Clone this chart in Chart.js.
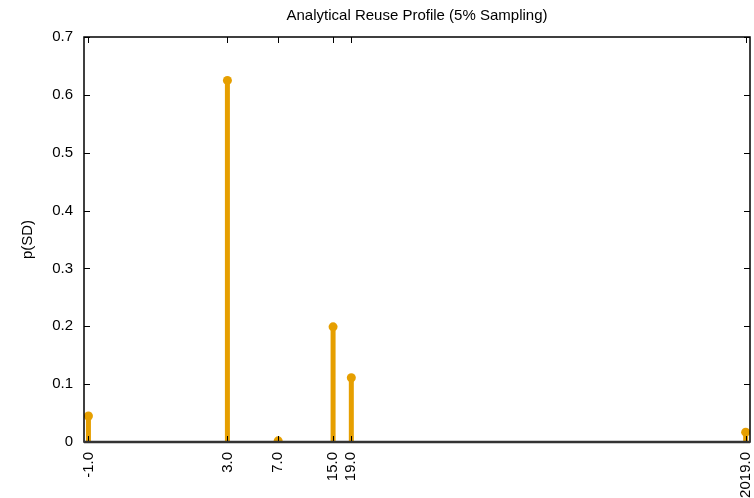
<!DOCTYPE html>
<html>
<head>
<meta charset="utf-8">
<script src="https://cdn.jsdelivr.net/npm/chart.js@4"></script>
<style>
  html, body { margin: 0; padding: 0; background: #fff; overflow: hidden; }
  #wrap { width: 754px; height: 498px; }
</style>
</head>
<body>
<div id="wrap"><canvas id="reuse-chart"></canvas></div>
<script>
// reuse distances (x) and their probabilities
const distances = [-1, 3, 7, 15, 19, 2019];
const probs = [0.045, 0.625, 0.002, 0.199, 0.111, 0.017];
const yTicks = [0, 0.1, 0.2, 0.3, 0.4, 0.5, 0.6, 0.7];

const orange = '#E69F00';
const font = 'Liberation Sans, Arial, Helvetica, sans-serif';

// the x axis is log(d + 2) in the original plot
const shift = 2;

// one stem per distance: (x,0) -> (x,p), broken by a null point
const stemData = [];
distances.forEach((d, i) => {
  stemData.push({ x: d + shift, y: 0 });
  stemData.push({ x: d + shift, y: probs[i] });
  stemData.push({ x: d + shift, y: null });
});

// frame, inward ticks, title and y label
const framePlugin = {
  id: 'frame',
  afterDraw(chart) {
    const ctx = chart.ctx;
    const a = chart.chartArea;
    const xs = chart.scales.x, ys = chart.scales.y;
    ctx.save();
    ctx.strokeStyle = '#000';
    ctx.lineWidth = 1;
    ctx.beginPath();
    distances.forEach(d => {
      const px = Math.round(xs.getPixelForValue(d + shift)) + 0.5;
      ctx.moveTo(px, a.top); ctx.lineTo(px, a.top + 6);
      ctx.moveTo(px, a.bottom); ctx.lineTo(px, a.bottom - 6);
    });
    yTicks.forEach(v => {
      const py = Math.round(ys.getPixelForValue(v)) + 0.5;
      ctx.moveTo(a.left, py); ctx.lineTo(a.left + 6, py);
      ctx.moveTo(a.right, py); ctx.lineTo(a.right - 6, py);
    });
    ctx.stroke();
    ctx.lineWidth = 1.5;
    ctx.strokeRect(a.left, a.top, a.right - a.left, a.bottom - a.top);
    // darker baseline
    ctx.lineWidth = 2.5;
    ctx.strokeStyle = '#333';
    ctx.beginPath();
    ctx.moveTo(a.left, a.bottom); ctx.lineTo(a.right, a.bottom);
    ctx.stroke();

    ctx.fillStyle = '#000';
    ctx.font = '15px ' + font;
    ctx.textAlign = 'center';
    ctx.textBaseline = 'middle';
    ctx.fillText('Analytical Reuse Profile (5% Sampling)', (a.left + a.right) / 2, 16);
    ctx.translate(28, (a.top + a.bottom) / 2);
    ctx.rotate(-Math.PI / 2);
    ctx.fillText('p(SD)', 0, 0);
    ctx.restore();
  }
};

new Chart(document.getElementById('reuse-chart').getContext('2d'), {
  type: 'line',
  data: {
    datasets: [{
      label: 'p(SD)',
      data: stemData,
      borderColor: orange,
      backgroundColor: orange,
      borderWidth: 5,
      borderCapStyle: 'butt',
      spanGaps: false,
      pointRadius: ctx => (ctx.dataIndex % 3 === 1 ? 4.5 : 0),
      pointHoverRadius: 0,
      pointBorderWidth: 0
    }]
  },
  options: {
    responsive: true,
    maintainAspectRatio: false,
    animation: false,
    layout: { padding: { top: 37, right: 4, left: 0, bottom: 0 } },
    scales: {
      x: {
        type: 'logarithmic',
        min: 0.95,
        max: 2125,
        grid: { display: false },
        border: { display: false },
        afterBuildTicks: axis => {
          axis.ticks = distances.map(d => ({ value: d + shift }));
        },
        afterFit: axis => {
          axis.height = 56;
          axis.paddingLeft = 0;
          axis.paddingRight = 0;
        },
        ticks: {
          autoSkip: false,
          minRotation: 90,
          maxRotation: 90,
          padding: 2,
          color: '#000',
          font: { family: font, size: 15 },
          callback: v => (v - shift).toFixed(1)
        }
      },
      y: {
        min: 0,
        max: 0.7,
        grid: { display: false },
        border: { display: false },
        afterBuildTicks: axis => {
          axis.ticks = yTicks.map(v => ({ value: v }));
        },
        afterFit: axis => {
          axis.width = 84;
          axis.paddingTop = 0;
          axis.paddingBottom = 0;
        },
        ticks: {
          padding: 3,
          color: '#000',
          font: { family: font, size: 15 },
          callback: v => (v === 0 ? '0' : v.toFixed(1))
        }
      }
    },
    plugins: {
      legend: { display: false },
      tooltip: { enabled: false }
    }
  },
  plugins: [framePlugin]
});
</script>
</body>
</html>
